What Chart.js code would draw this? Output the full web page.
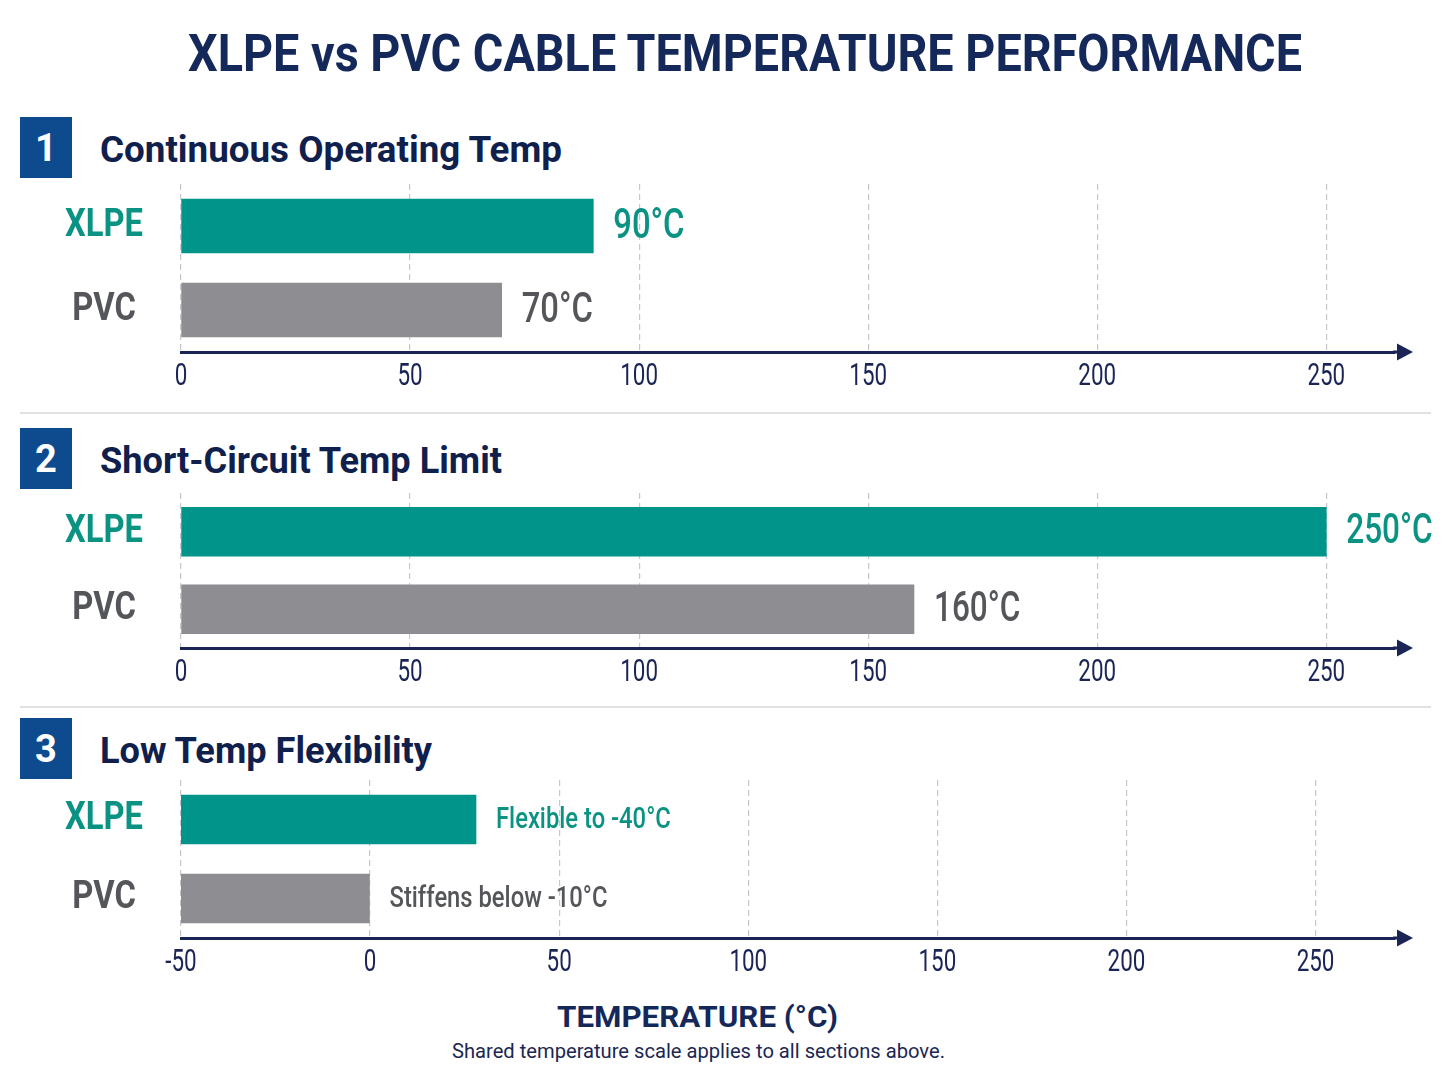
<!DOCTYPE html>
<html><head><meta charset="utf-8">
<script src="https://cdn.jsdelivr.net/npm/chart.js@4.4.1/dist/chart.umd.min.js"></script>
<style>
html,body{margin:0;padding:0;background:#fff;}
body{width:1448px;height:1086px;position:relative;overflow:hidden;font-family:Roboto,'Liberation Sans',sans-serif;}
.fit{position:absolute;white-space:nowrap;transform-origin:0 0;line-height:1;}
#title{font-size:52px;font-weight:700;color:#14285a;}
.box{position:absolute;left:20px;width:52px;height:61px;background:#0e4a8e;color:#fff;font-weight:700;font-size:38px;display:flex;align-items:center;justify-content:center;}
.stitle{font-size:36px;font-weight:700;color:#10204d;}
.sep{position:absolute;left:20px;width:1411px;height:2px;background:#dfe1e5;}
canvas{position:absolute;left:0;}
#axisTitle{font-size:30px;font-weight:700;color:#14285a;}
#axisNote{font-size:20px;font-weight:400;color:#1b2752;}
</style></head>
<body>
<div id="title" class="fit" data-x="188" data-cy="53" data-w="1114">XLPE vs PVC CABLE TEMPERATURE PERFORMANCE</div>

<div class="box" style="top:117px">1</div>
<div class="stitle fit" data-x="100" data-cy="150" data-w="462">Continuous Operating Temp</div>
<canvas id="c1" width="1448" height="218" style="top:184px"></canvas>
<div class="sep" style="top:412px"></div>

<div class="box" style="top:428px">2</div>
<div class="stitle fit" data-x="100" data-cy="461" data-w="402">Short-Circuit Temp Limit</div>
<canvas id="c2" width="1448" height="205" style="top:493px"></canvas>
<div class="sep" style="top:706px"></div>

<div class="box" style="top:718px">3</div>
<div class="stitle fit" data-x="100" data-cy="751" data-w="332">Low Temp Flexibility</div>
<canvas id="c3" width="1448" height="208" style="top:780px"></canvas>

<div id="axisTitle" class="fit" data-x="557" data-cy="1017" data-w="281">TEMPERATURE (°C)</div>
<div id="axisNote" class="fit" data-x="452" data-cy="1051" data-w="493">Shared temperature scale applies to all sections above.</div>

<script>
// ---------------- data ----------------
const categories = ['XLPE', 'PVC'];
const operatingTemp = [90, 70];
const operatingLabels = ['90°C', '70°C'];
const shortCircuitTemp = [250, 160];
const shortCircuitLabels = ['250°C', '160°C'];
const lowTempStart = -50;
const lowTempEnd = [28, 0];
const lowTempLabels = ['Flexible to -40°C', 'Stiffens below -10°C'];
const tickStep = 50;

// ---------------- styles ----------------
const TEAL = '#00948a';
const TEAL_TEXT = '#0a9283';
const GREY_BAR = '#8e8e92';
const GREY_TEXT = '#54565a';
const NAVY = '#1a2556';

// fit HTML text
document.querySelectorAll('.fit').forEach(el => {
  el.style.left = el.dataset.x + 'px';
  const fs = parseFloat(getComputedStyle(el).fontSize);
  el.style.top = (parseFloat(el.dataset.cy) - fs * 0.49) + 'px';
  const w = el.getBoundingClientRect().width;
  el.style.transform = 'scaleX(' + (parseFloat(el.dataset.w) / w) + ')';
});

// condensed text helper (horizontal squeeze of Roboto)
function drawText(ctx, text, x, y, font, color, sx, align) {
  ctx.save();
  ctx.font = font;
  ctx.fillStyle = color;
  ctx.textBaseline = 'middle';
  ctx.textAlign = 'left';
  const w = ctx.measureText(text).width * sx;
  const left = align === 'center' ? x - w / 2 : (align === 'right' ? x - w : x);
  ctx.translate(left, y);
  ctx.scale(sx, 1);
  ctx.fillText(text, 0, 0);
  ctx.restore();
}

const arrowPlugin = {
  id: 'arrowAxis',
  afterDraw(chart) {
    const {ctx, chartArea} = chart;
    const y = chartArea.bottom;
    ctx.save();
    ctx.strokeStyle = NAVY; ctx.fillStyle = NAVY; ctx.lineWidth = 3;
    ctx.beginPath(); ctx.moveTo(chartArea.right - 2, y); ctx.lineTo(1400, y); ctx.stroke();
    ctx.beginPath(); ctx.moveTo(1397, y - 8.5); ctx.lineTo(1413, y); ctx.lineTo(1397, y + 8.5); ctx.closePath(); ctx.fill();
    ctx.restore();
  }
};

// axis labels drawn from the chart's own scales, in a condensed face
const axisLabelPlugin = {
  id: 'axisLabels',
  afterDraw(chart) {
    const {ctx, chartArea} = chart;
    const xs = chart.scales.x, ys = chart.scales.y;
    xs.ticks.forEach((t, i) => {
      drawText(ctx, String(t.value), xs.getPixelForTick(i), chartArea.bottom + 25,
        '400 32px Roboto', NAVY, 0.7, 'center');
    });
    ys.ticks.forEach((t, i) => {
      drawText(ctx, categories[i], 104, ys.getPixelForTick(i),
        'bold 39px Roboto', i === 0 ? TEAL_TEXT : GREY_TEXT, 0.84, 'center');
    });
  }
};

const valuePlugin = {
  id: 'valueLabels',
  afterDatasetsDraw(chart, args, opts) {
    const {ctx} = chart;
    const meta = chart.getDatasetMeta(0);
    meta.data.forEach((bar, i) => {
      const p = bar.getProps(['x', 'y', 'base'], true);
      const end = Math.max(p.x, p.base);
      drawText(ctx, opts.labels[i], end + opts.gap, p.y + 1, opts.font,
        i === 0 ? TEAL_TEXT : GREY_TEXT, opts.sx, 'left');
    });
  }
};

function makeChart(id, values, labels, xmin, xmax, thickness, valueFont, sx) {
  return new Chart(document.getElementById(id), {
    type: 'bar',
    data: {
      labels: categories,
      datasets: [{
        data: values,
        backgroundColor: [TEAL, GREY_BAR],
        borderWidth: 0,
        barThickness: thickness
      }]
    },
    plugins: [arrowPlugin, valuePlugin, axisLabelPlugin],
    options: {
      indexAxis: 'y',
      responsive: false,
      animation: false,
      devicePixelRatio: 1,
      events: [],
      layout: {padding: {top: 0, right: 53, bottom: 50, left: 181}},
      plugins: {
        legend: {display: false},
        tooltip: {enabled: false},
        valueLabels: {labels: labels, font: valueFont, sx: sx, gap: 20}
      },
      scales: {
        y: {
          type: 'category',
          display: false
        },
        x: {
          type: 'linear',
          min: xmin,
          max: xmax,
          grid: {color: '#c6c7cc', lineWidth: 1.2, drawTicks: false},
          border: {display: true, color: NAVY, width: 3, dash: [6, 4]},
          ticks: {stepSize: tickStep, includeBounds: false, display: false}
        }
      }
    }
  });
}

makeChart('c1', operatingTemp, operatingLabels, 0, 265, 54, '500 42px Roboto', 0.78);
makeChart('c2', shortCircuitTemp, shortCircuitLabels, 0, 265, 49, '500 42px Roboto', 0.75);
makeChart('c3', lowTempEnd.map(v => [lowTempStart, v]), lowTempLabels, lowTempStart, 271, 49, '500 29px Roboto', 0.82);
</script>
</body></html>
